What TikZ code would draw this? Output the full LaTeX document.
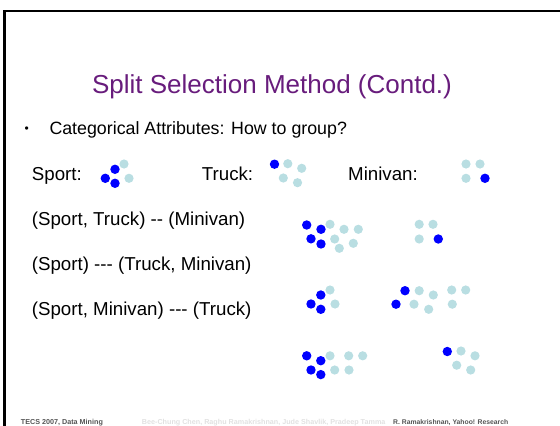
\documentclass[tikz,border=0pt]{standalone}
\usepackage{fontspec}
\setmainfont{Liberation Sans}
\definecolor{titlepurple}{RGB}{104,28,124}
\definecolor{lightdot}{RGB}{185,222,226}
\definecolor{footgray}{RGB}{85,85,85}
\definecolor{footfaint}{RGB}{225,225,225}
\newcommand\bdotat[2]{\fill[bdot] (#1,#2) circle[radius=4.7pt];}
\newcommand\ldotat[2]{\fill[ldot] (#1,#2) circle[radius=4.6pt];}
\begin{document}
\begin{tikzpicture}[x=1pt,y=-1pt,
  bdot/.style={fill={rgb,255:red,0;green,0;blue,255}},
  ldot/.style={fill=lightdot},
  body/.style={anchor=base west,inner sep=0pt,font=\fontsize{18.7}{21}\selectfont},
  foot/.style={anchor=base west,inner sep=0pt,font=\fontsize{7.2}{8}\selectfont\bfseries}]
\useasboundingbox (0,0) rectangle (560,426);
\clip (0,0) rectangle (560,426);
% frame
\draw[line width=2.3pt] (4.5,440) -- (4.5,11) -- (580,11);
% title
\node[anchor=base,inner sep=0pt,text=titlepurple,font=\fontsize{26}{30}\selectfont] (title) at (272,93) {Split Selection Method (Contd.)};
% bullet line
\node[anchor=base west,inner sep=0pt,font=\fontsize{12}{14}\selectfont] (bul) at (24.5,132) {•};
\node[anchor=base west,inner sep=0pt,font=\fontsize{17.8}{20}\selectfont] (cat) at (49.3,134) {Categorical Attributes: How to group?};
% text rows
\node[body] (sport) at (31.7,180) {Sport:};
\node[body] (truck) at (201.7,180) {Truck:};
\node[body] (minivan) at (348,180) {Minivan:};
\node[body] (r1) at (31.7,225) {(Sport, Truck) -{}- (Minivan)};
\node[body] (r2) at (31.7,270) {(Sport) -{}-{}- (Truck, Minivan)};
\node[body] (r3) at (31.7,315) {(Sport, Minivan) -{}-{}- (Truck)};
% Sport dots
\bdotat{115}{169.3}\bdotat{105.3}{178.3}\bdotat{115}{183.3}
\ldotat{124}{164}\ldotat{129}{178.3}
% Truck dots
\bdotat{274.5}{164.2}
\ldotat{287.8}{163.7}\ldotat{301.7}{168.3}\ldotat{283.3}{178}\ldotat{297.5}{182.7}
% Minivan dots
\ldotat{466}{164}\ldotat{480}{164}\ldotat{466}{178.3}
\bdotat{485}{178.3}
% Row 1: (Sport, Truck) | (Minivan)
\bdotat{306.7}{225}\bdotat{321}{229.3}\bdotat{311}{238.8}\bdotat{321}{244}
\ldotat{330}{224.3}\ldotat{344}{229.3}\ldotat{358.3}{229.3}\ldotat{334.7}{239}\ldotat{353.3}{243.3}\ldotat{339.3}{248.3}
\ldotat{419.2}{224.3}\ldotat{433}{224.3}\ldotat{419.2}{239}
\bdotat{438.3}{239}
% Row 2: (Sport) | (Truck, Minivan)
\bdotat{320.8}{295}\bdotat{311}{304}\bdotat{320.8}{309.3}
\ldotat{330}{290}\ldotat{335}{304}
\bdotat{405}{290.7}\bdotat{396}{304.2}
\ldotat{419.2}{290.7}\ldotat{433.3}{295}\ldotat{414}{304.2}\ldotat{428.7}{309.3}\ldotat{451.7}{290}\ldotat{465.7}{290}\ldotat{452.3}{304.2}
% Row 3: (Sport, Minivan) | (Truck)
\bdotat{306.7}{355.8}\bdotat{320.8}{360.7}\bdotat{311}{370}\bdotat{320.8}{374.6}
\ldotat{330}{355.8}\ldotat{348.7}{355.8}\ldotat{362.7}{355.8}\ldotat{334.7}{370}\ldotat{349}{370}
\bdotat{447.3}{351.5}
\ldotat{461}{351}\ldotat{475}{355.8}\ldotat{456.7}{365.2}\ldotat{470.7}{370}
% footer
\node[foot,text=footfaint] (fmid) at (141.7,424.8) {Bee-Chung Chen, Raghu Ramakrishnan, Jude Shavlik, Pradeep Tamma};
\node[foot,text=footgray] (fleft) at (20.7,424.8) {TECS 2007, Data Mining};
\node[foot,text=footgray,font=\fontsize{6.8}{8}\selectfont\bfseries] (fright) at (393,424.8) {R. Ramakrishnan, Yahoo! Research};
\end{tikzpicture}
\end{document}
